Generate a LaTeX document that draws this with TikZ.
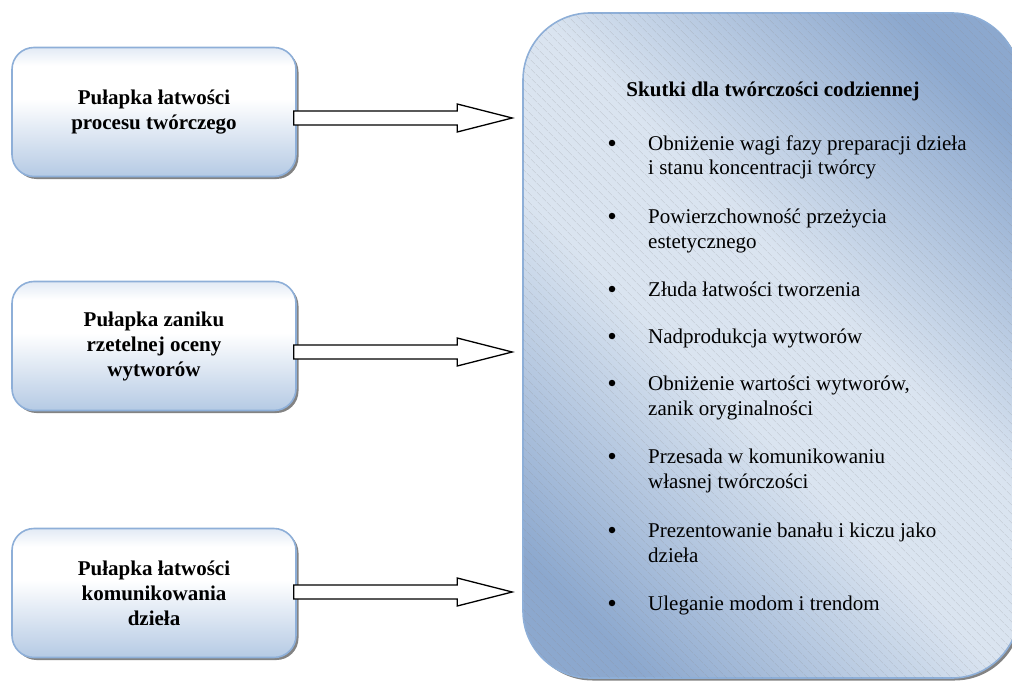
\documentclass[tikz,border=0pt]{standalone}
\usepackage{fontspec}
\setmainfont{Liberation Serif}
\usetikzlibrary{shadows,patterns.meta,calc}
\definecolor{lbord}{HTML}{8EAFD8}
\definecolor{lbot}{HTML}{B5CAE4}
\definecolor{ltop}{HTML}{E2EAF5}
\definecolor{rdark}{HTML}{8CA8CE}
\definecolor{rlight}{HTML}{DAE4F0}
\pgfdeclareverticalshading{lboxshade}{100bp}{color(0bp)=(lbot); color(25bp)=(lbot); color(55bp)=(white); color(68bp)=(white); color(75bp)=(ltop); color(100bp)=(ltop)}
\pgfdeclarehorizontalshading{rboxshade}{100bp}{color(0bp)=(rdark); color(22bp)=(rdark); color(44bp)=(rlight); color(56bp)=(rlight); color(78bp)=(rdark); color(100bp)=(rdark)}
\tikzset{
  trapbox/.style={rectangle, rounded corners=22pt, draw=lbord, line width=1.6pt,
    shading=lboxshade, minimum width=284pt, minimum height=129pt, align=center,
    font=\bfseries\fontsize{21}{25}\selectfont, inner sep=0pt,
    drop shadow={shadow xshift=2.5pt, shadow yshift=-2.5pt, fill=black!65, opacity=0.75}},
  effectbox/.style={rectangle, rounded corners=67pt, draw=lbord, line width=1.6pt,
    shading=rboxshade, shading angle=45, minimum width=496pt, minimum height=665pt, inner sep=0pt,
    drop shadow={shadow xshift=2.5pt, shadow yshift=-2.5pt, fill=black!65, opacity=0.75},
    postaction={pattern={Lines[angle=-45,distance=6.5pt,line width=0.45pt]}, pattern color=black!45, fill opacity=0.3}},
  blockarrow/.style={draw=black, line width=1.3pt, fill=white, line join=miter},
  item/.style={anchor=base west, inner sep=0pt, font=\fontsize{21}{25}\selectfont},
  bul/.style={circle, fill=black, inner sep=0pt, minimum size=6.5pt},
  title/.style={anchor=base, inner sep=0pt, font=\bfseries\fontsize{21}{25}\selectfont}
}
\begin{document}
\begin{tikzpicture}[x=1pt,y=-1pt]
\useasboundingbox (0,0) rectangle (1012,682);
\begin{scope}
\clip (0,0) rectangle (1012,682);
\node[effectbox] (R) at (771,345.5) {};
\end{scope}
\node[trapbox] (b1) at (154,112) {Pułapka łatwości\\procesu twórczego};
\node[trapbox] (b2) at (154,346) {Pułapka zaniku\\rzetelnej oceny\\wytworów};
\node[trapbox] (b3) at (154,593) {Pułapka łatwości\\komunikowania\\dzieła};
% arrows
\coordinate (t1) at ($(R.west)+(-10,0)$);
\coordinate (p1) at (t1 |- 0,118);
\coordinate (p2) at (t1 |- 0,352);
\coordinate (p3) at (t1 |- 0,592);
\foreach \b/\p in {b1/p1,b2/p2,b3/p3}{
  \draw[blockarrow] ($(\b.east|-\p)+(-3,-7)$) -- ($(\p)+(-55,-7)$) -- ($(\p)+(-55,-14)$) -- (\p)
     -- ($(\p)+(-55,14)$) -- ($(\p)+(-55,7)$) -- ($(\b.east|-\p)+(-3,7)$) -- cycle;
}
% text in right box
\node[title] (ttl) at (773,97) {Skutki dla twórczości codziennej};
\node[bul] (u1) at (612,143) {};
\node[item] (i1a) at (648,150) {Obniżenie wagi fazy preparacji dzieła};
\node[item] (i1b) at (648,175) {i stanu koncentracji twórcy};
\node[bul] (u2) at (612,216) {};
\node[item] (i2a) at (648,223) {Powierzchowność przeżycia};
\node[item] (i2b) at (648,248) {estetycznego};
\node[bul] (u3) at (612,289) {};
\node[item] (i3a) at (648,296) {Złuda łatwości tworzenia};
\node[bul] (u4) at (612,336) {};
\node[item] (i4a) at (648,343) {Nadprodukcja wytworów};
\node[bul] (u5) at (612,383) {};
\node[item] (i5a) at (648,390) {Obniżenie wartości wytworów,};
\node[item] (i5b) at (648,415) {zanik oryginalności};
\node[bul] (u6) at (612,456) {};
\node[item] (i6a) at (648,463) {Przesada w komunikowaniu};
\node[item] (i6b) at (648,488) {własnej twórczości};
\node[bul] (u7) at (612,530) {};
\node[item] (i7a) at (648,537) {Prezentowanie banału i kiczu jako};
\node[item] (i7b) at (648,562) {dzieła};
\node[bul] (u8) at (612,603) {};
\node[item] (i8a) at (648,610) {Uleganie modom i trendom};
\end{tikzpicture}
\end{document}
